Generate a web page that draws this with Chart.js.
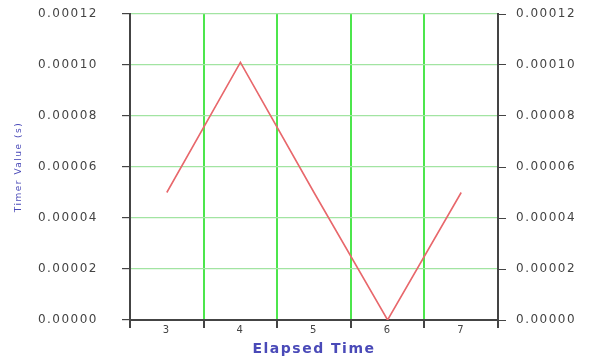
<!DOCTYPE html>
<html>
<head>
<meta charset="utf-8">
<script src="https://cdn.jsdelivr.net/npm/chart.js@4"></script>
<style>
  html, body { margin:0; padding:0; background:#fff; }
  #wrap { width:592px; height:358px; position:relative; }
</style>
</head>
<body>
<div id="wrap"><canvas id="c"></canvas></div>
<script>
'use strict';

/* ---- data ---------------------------------------------------------------- */
const elapsed   = ['3', '4', '5', '6', '7'];
const timerVals = [0.00005, 0.000101, 0.00005, 0.0, 0.00005];
const yTicks    = [0, 0.00002, 0.00004, 0.00006, 0.00008, 0.00010, 0.00012];

const AXIS = '#444';
const TXT  = '#444';
const TITLE = '#4a4ab8';

/* spread the glyphs a bit, the reference text is wide */
const SPACING = '1.5px';
const spacing = {
  id: 'spacing',
  beforeUpdate(chart){ chart.ctx.letterSpacing = SPACING; },
  beforeDraw(chart){ chart.ctx.letterSpacing = SPACING; },
};

const fmt = (v) => Number(v).toFixed(5);
/* pin the axis boxes so the plot area lands where the reference has it */
const pin = (w, h) => (s) => {
  if (w != null) s.width = w;
  if (h != null) s.height = h;
  s.paddingTop = s.paddingBottom = s.paddingLeft = s.paddingRight = 0;
};

new Chart(document.getElementById('c'), {
  type: 'line',
  data: {
    labels: elapsed,
    datasets: [{
      data: timerVals, borderColor: '#e8686c', borderWidth: 1.6,
      pointRadius: 0, fill: false, tension: 0, yAxisID: 'y',
    }],
  },
  options: {
    responsive: true, maintainAspectRatio: false, animation: false,
    layout: { padding: { top: 14, left: 0, right: 0, bottom: 0 } },
    plugins: { legend: { display: false }, tooltip: { enabled: false } },
    scales: {
      x: {
        type: 'category', offset: true,
        grid: { offset: true, color: '#4ce64c', lineWidth: 2, tickColor: AXIS, tickLength: 8 },
        border: { color: AXIS, width: 2 },
        ticks: { color: TXT, font: { family: 'DejaVu Sans', size: 10 }, padding: -4, maxRotation: 0 },
        title: { display: true, text: 'Elapsed Time', color: TITLE,
                 font: { family: 'DejaVu Sans', size: 14, weight: 'bold' }, padding: { top: 0, bottom: 0 } },
        afterFit: pin(null, 38),
      },
      y: {
        position: 'left', min: 0, max: 0.00012,
        afterBuildTicks(s){ s.ticks = yTicks.map(v => ({ value: v })); },
        grid: { color: '#a2e4a2', lineWidth: 1.2, tickColor: AXIS, tickLength: 8 },
        border: { color: AXIS, width: 2 },
        ticks: { color: TXT, font: { family: 'DejaVu Sans', size: 12 }, padding: 24, callback: fmt },
        title: { display: true, text: 'Timer Value (s)', color: TITLE,
                 font: { family: 'DejaVu Sans', size: 9 }, padding: { top: 13, bottom: 0 } },
        afterFit: pin(130, null),
      },
      y2: {
        position: 'right', min: 0, max: 0.00012,
        afterBuildTicks(s){ s.ticks = yTicks.map(v => ({ value: v })); },
        grid: { drawOnChartArea: false, tickColor: AXIS, tickLength: 8 },
        border: { color: AXIS, width: 2 },
        ticks: { color: TXT, font: { family: 'DejaVu Sans', size: 12 }, padding: 10, callback: fmt },
        afterFit: pin(94, null),
      },
    },
  },
  plugins: [spacing],
});
</script>
</body>
</html>
